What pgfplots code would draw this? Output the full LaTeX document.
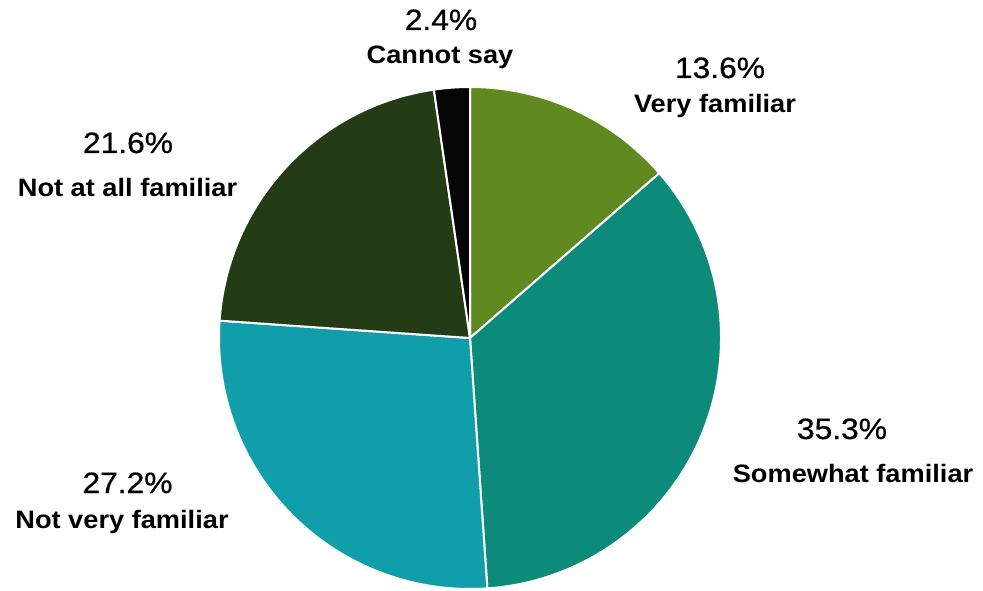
\documentclass[border=0pt]{standalone}
\usepackage{pgfplots}
\pgfplotsset{compat=1.18}
\usepackage{fontspec}
\setmainfont{Liberation Sans}[FakeStretch=1.08]
\newfontfamily\numfamily{Liberation Sans}[FakeStretch=1.08,FakeBold=0.6]
\definecolor{cVery}{RGB}{96,138,32}
\definecolor{cSome}{RGB}{12,138,122}
\definecolor{cNotVery}{RGB}{16,158,170}
\definecolor{cNotAll}{RGB}{36,60,22}
\definecolor{cCannot}{RGB}{5,5,5}
% slice: start (percent), value (percent), colour
\newcommand\pieslice[3]{%
  \fill[#3,draw=white,line width=1pt,line join=round]
    (axis cs:470,252) -- ++({90-3.6*(#1)}:125.5pt)
    arc[start angle={90-3.6*(#1)}, end angle={90-3.6*((#1)+(#2))}, radius=125.5pt] -- cycle;}
\newcommand\numfont{\numfamily\fontsize{14.7}{16}\selectfont}
\newcommand\labfont{\fontsize{12.6}{14}\selectfont\bfseries}
\begin{document}
\begin{tikzpicture}
\begin{axis}[
  scale only axis, width=491.5pt, height=295pt,
  xmin=0, xmax=983, ymin=0, ymax=590,
  axis lines=none, clip=false]
% values: Very familiar 13.6, Somewhat familiar 35.3, Not very familiar 27.2,
% Not at all familiar 21.6, Cannot say 2.4
\pieslice{0}{13.6}{cVery}
\pieslice{13.6}{35.3}{cSome}
\pieslice{48.9}{27.2}{cNotVery}
\pieslice{76.1}{21.6}{cNotAll}
\pieslice{97.7}{2.3}{cCannot}
\node[anchor=base,font=\numfont] at (axis cs:441,560) {2.4\%};
\node[anchor=base,font=\labfont] at (axis cs:440,526) {Cannot say};
\node[anchor=base,font=\numfont] at (axis cs:720,512) {13.6\%};
\node[anchor=base,font=\labfont] at (axis cs:715,477) {Very familiar};
\node[anchor=base,font=\numfont] at (axis cs:128,437) {21.6\%};
\node[anchor=base,font=\labfont] at (axis cs:127.5,393) {Not at all familiar};
\node[anchor=base,font=\numfont] at (axis cs:842,151) {35.3\%};
\node[anchor=base,font=\labfont] at (axis cs:853,108) {Somewhat familiar};
\node[anchor=base,font=\numfont] at (axis cs:127.5,97) {27.2\%};
\node[anchor=base,font=\labfont] at (axis cs:122,62) {Not very familiar};
\end{axis}
\pgfresetboundingbox
\path (current axis.south west) rectangle (current axis.north east);
\end{tikzpicture}
\end{document}
